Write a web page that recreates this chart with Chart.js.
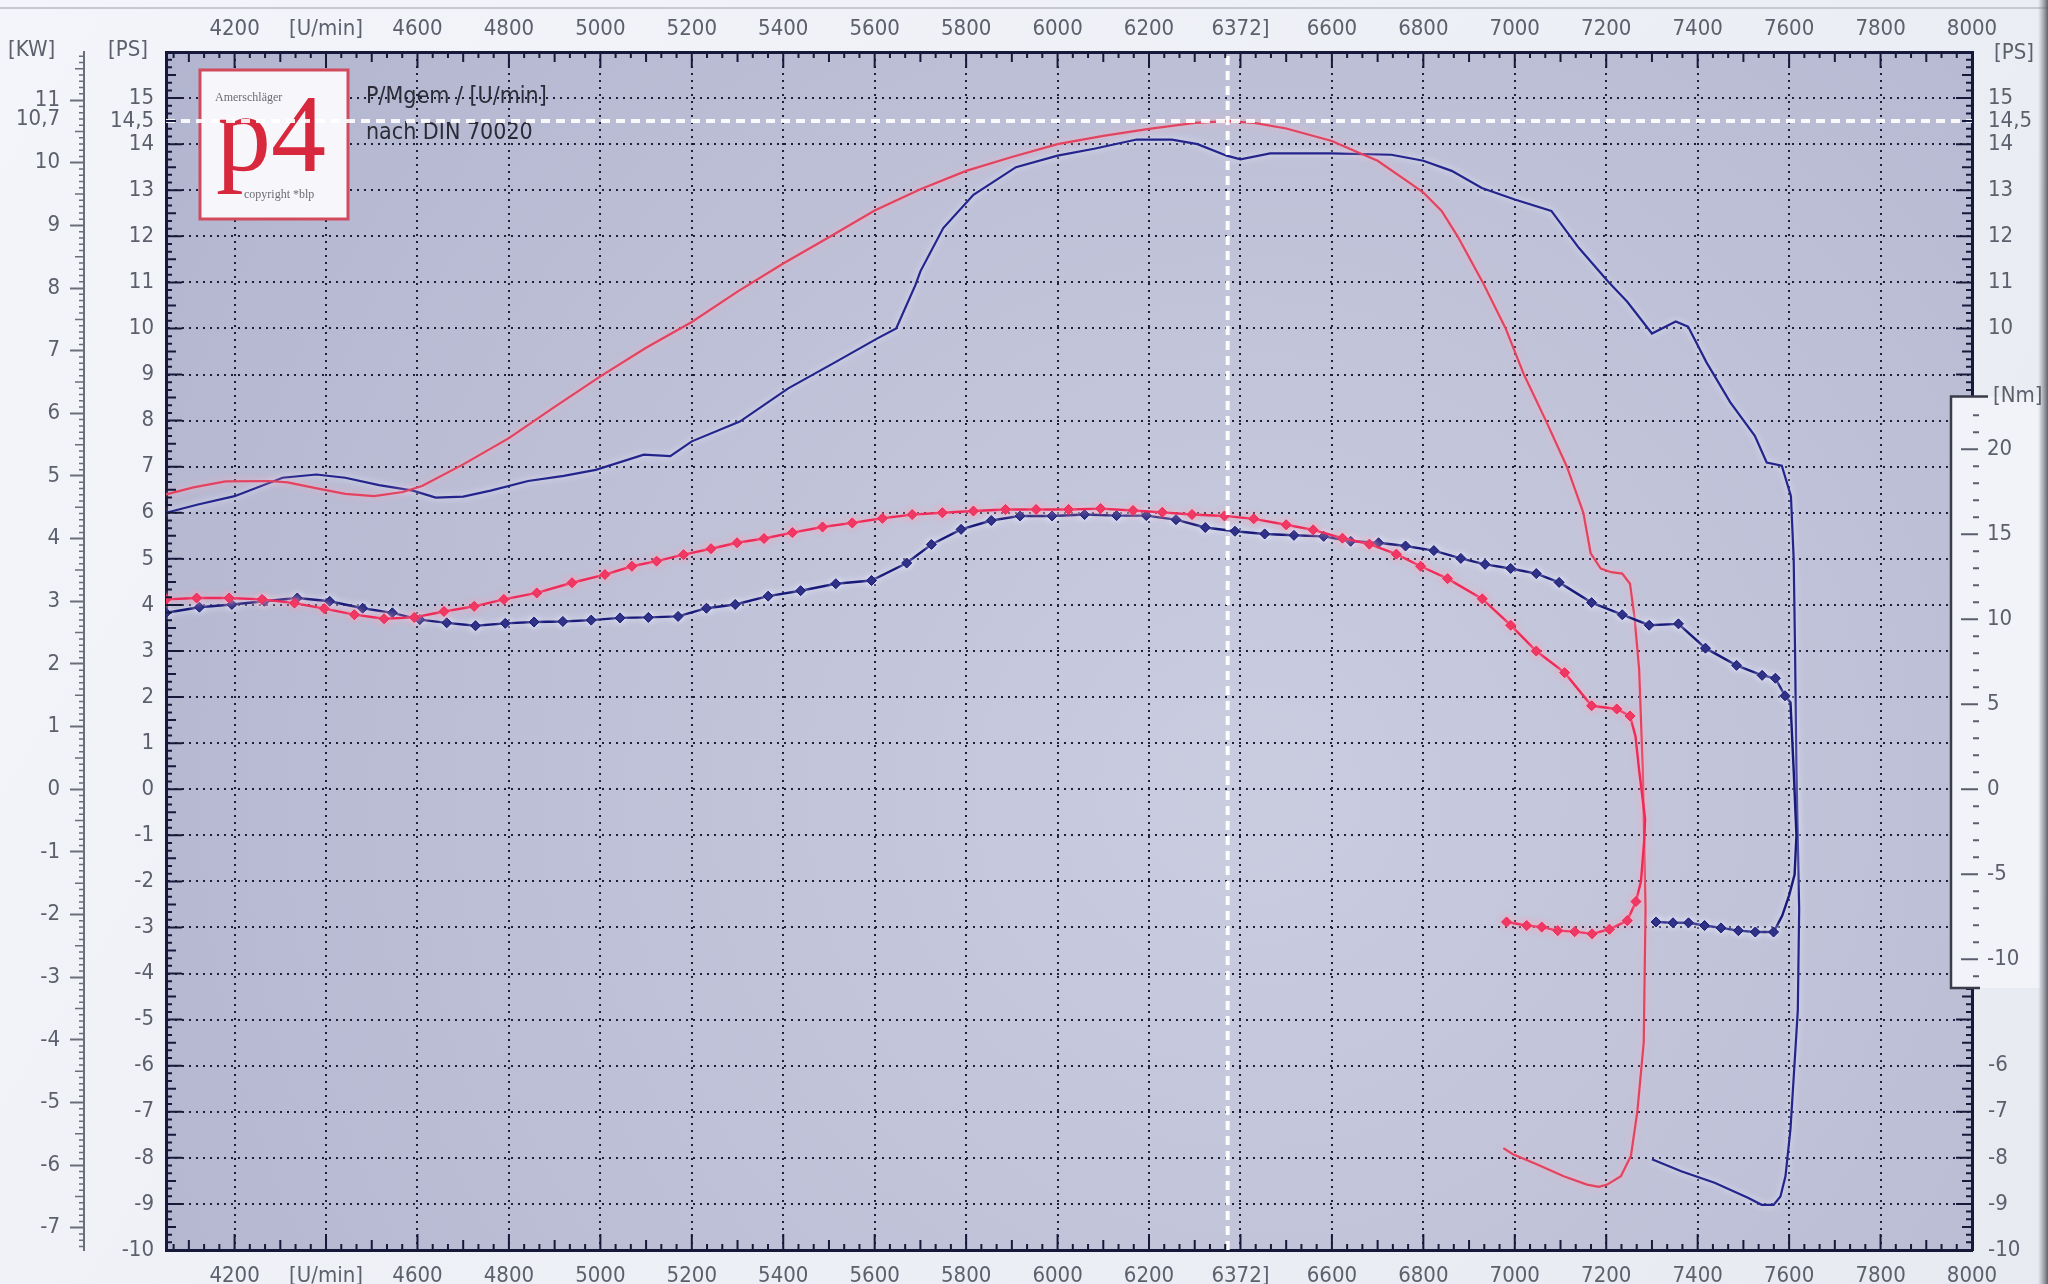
<!DOCTYPE html>
<html>
<head>
<meta charset="utf-8">
<title>P/Mgem / [U/min]</title>
<script src="https://cdn.jsdelivr.net/npm/chart.js@4.4.1/dist/chart.umd.min.js"></script>
<style>
  html, body { margin: 0; padding: 0; background: #eceef4; }
  #wrap { width: 2048px; height: 1284px; }
</style>
</head>
<body>
<div id="wrap"><canvas id="chart" width="2048" height="1284"></canvas></div>
<script>
// Achsen
var rpmTicks = [4200, 4400, 4600, 4800, 5000, 5200, 5400, 5600, 5800, 6000, 6200, 6400, 6600, 6800, 7000, 7200, 7400, 7600, 7800, 8000];
var rpmLabels = ["4200", "[U/min]", "4600", "4800", "5000", "5200", "5400", "5600", "5800", "6000", "6200", "6372]", "6600", "6800", "7000", "7200", "7400", "7600", "7800", "8000"];
var psTicks = [-10, -9, -8, -7, -6, -5, -4, -3, -2, -1, 0, 1, 2, 3, 4, 5, 6, 7, 8, 9, 10, 11, 12, 13, 14, 14.5, 15];
var psRightTicks = [15, 14.5, 14, 13, 12, 11, 10, -6, -7, -8, -9, -10];
var kwTicks = [-7, -6, -5, -4, -3, -2, -1, 0, 1, 2, 3, 4, 5, 6, 7, 8, 9, 10, 10.7, 11];
var nmTicks = [-10, -5, 0, 5, 10, 15, 20];

// Cursor
var cursorRpm = 6372;
var cursorPs = 14.5;

// Leistung [U/min, PS]
var redPower = [
    [4050, 6.40], [4110, 6.55], [4180, 6.68], [4275, 6.69], [4316, 6.66], [4380, 6.53], [4442, 6.41],
    [4505, 6.36], [4568, 6.45], [4610, 6.58], [4700, 7.05], [4800, 7.62], [4900, 8.30], [5000, 8.96],
    [5100, 9.58], [5200, 10.14], [5300, 10.80], [5400, 11.41], [5500, 11.98], [5600, 12.56], [5700, 13.02],
    [5800, 13.42], [5900, 13.72], [6000, 14.00], [6100, 14.18], [6200, 14.33], [6300, 14.46], [6372, 14.50],
    [6430, 14.46], [6500, 14.34], [6600, 14.07], [6650, 13.85], [6700, 13.64], [6770, 13.16], [6800, 12.95],
    [6840, 12.55], [6875, 12.00], [6930, 11.00], [6980, 10.00], [7020, 9.00], [7068, 8.00], [7114, 7.00],
    [7150, 6.00], [7166, 5.12], [7188, 4.79], [7211, 4.71], [7235, 4.68], [7252, 4.46], [7262, 3.72],
    [7272, 2.60], [7280, 0.40], [7286, -2.60], [7282, -5.50], [7268, -7.00], [7254, -7.96], [7232, -8.40],
    [7202, -8.58], [7184, -8.63], [7158, -8.58], [7107, -8.40], [7048, -8.14], [6996, -7.92], [6975, -7.79]
];
var bluePower = [
    [4050, 6.00], [4120, 6.18], [4200, 6.36], [4305, 6.76], [4379, 6.83], [4442, 6.76], [4516, 6.60],
    [4590, 6.48], [4640, 6.33], [4700, 6.35], [4760, 6.48], [4842, 6.69], [4920, 6.80], [4990, 6.93],
    [5095, 7.26], [5153, 7.23], [5200, 7.55], [5305, 7.98], [5411, 8.70], [5516, 9.28], [5605, 9.78],
    [5647, 10.00], [5689, 10.94], [5700, 11.24], [5750, 12.18], [5816, 12.90], [5909, 13.50], [6000, 13.75],
    [6080, 13.90], [6173, 14.10], [6250, 14.10], [6306, 14.00], [6370, 13.75], [6400, 13.67], [6465, 13.80],
    [6597, 13.80], [6730, 13.77], [6800, 13.64], [6862, 13.42], [6928, 13.05], [7000, 12.80], [7080, 12.55],
    [7140, 11.75], [7204, 11.02], [7246, 10.58], [7300, 9.89], [7352, 10.15], [7379, 10.04], [7419, 9.27],
    [7471, 8.40], [7525, 7.67], [7551, 7.09], [7584, 7.02], [7604, 6.36], [7610, 5.00], [7613, 3.00],
    [7616, 0.40], [7622, -2.60], [7619, -4.80], [7610, -6.26], [7603, -7.37], [7592, -8.40], [7581, -8.84],
    [7566, -9.02], [7540, -9.02], [7511, -8.87], [7437, -8.54], [7364, -8.29], [7300, -8.03]
];

// Drehmoment [U/min, Nm]
var redTorque = [
    [4050, 11.17], [4117, 11.25], [4188, 11.25], [4260, 11.17], [4331, 10.95], [4396, 10.63], [4462, 10.27],
    [4527, 10.03], [4593, 10.11], [4658, 10.46], [4724, 10.76], [4789, 11.17], [4861, 11.55], [4938, 12.15],
    [5010, 12.63], [5069, 13.12], [5123, 13.42], [5182, 13.80], [5242, 14.15], [5299, 14.50], [5358, 14.75],
    [5420, 15.10], [5486, 15.43], [5551, 15.67], [5617, 15.94], [5682, 16.16], [5748, 16.27], [5816, 16.37],
    [5886, 16.46], [5953, 16.46], [6024, 16.46], [6094, 16.51], [6165, 16.40], [6229, 16.29], [6294, 16.16],
    [6365, 16.08], [6429, 15.91], [6500, 15.56], [6559, 15.26], [6623, 14.77], [6682, 14.42], [6741, 13.83],
    [6794, 13.12], [6853, 12.39], [6929, 11.20], [6991, 9.65], [7047, 8.13], [7109, 6.86], [7168, 4.91],
    [7223, 4.72], [7252, 4.31], [7264, 3.12], [7272, 1.11], [7285, -1.74], [7283, -3.04], [7276, -5.42],
    [7265, -6.61], [7246, -7.73], [7207, -8.24], [7169, -8.51], [7131, -8.38], [7094, -8.32], [7059, -8.11],
    [7026, -8.02], [6982, -7.81]
];
var blueTorque = [
    [4050, 10.38], [4123, 10.71], [4194, 10.87], [4265, 11.06], [4337, 11.25], [4408, 11.06], [4480, 10.65],
    [4545, 10.38], [4605, 9.98], [4664, 9.79], [4727, 9.62], [4792, 9.76], [4855, 9.84], [4918, 9.87],
    [4980, 9.95], [5043, 10.08], [5105, 10.11], [5170, 10.17], [5232, 10.65], [5295, 10.87], [5367, 11.36],
    [5438, 11.68], [5515, 12.09], [5593, 12.28], [5670, 13.31], [5724, 14.40], [5789, 15.29], [5855, 15.81],
    [5918, 16.08], [5988, 16.08], [6059, 16.16], [6129, 16.10], [6194, 16.10], [6259, 15.86], [6323, 15.40],
    [6388, 15.18], [6453, 15.02], [6517, 14.94], [6582, 14.88], [6641, 14.59], [6702, 14.50], [6761, 14.31],
    [6823, 14.04], [6882, 13.58], [6935, 13.23], [6991, 12.99], [7047, 12.69], [7097, 12.17], [7168, 10.98],
    [7235, 10.27], [7294, 9.65], [7358, 9.73], [7417, 8.30], [7485, 7.29], [7541, 6.70], [7570, 6.53],
    [7591, 5.50], [7603, 5.10], [7610, 1.11], [7616, -2.71], [7612, -5.02], [7600, -6.24], [7585, -7.43],
    [7570, -8.21], [7566, -8.40], [7526, -8.40], [7489, -8.32], [7451, -8.16], [7415, -8.02], [7380, -7.86],
    [7346, -7.86], [7309, -7.81]
];

var RPM_MIN = 4050, RPM_MAX = 8000;
var PS_MIN = -10, PS_MAX = 16;
var KW_PER_PS = 0.7355;
var NM_PER_PS = 2.711;

var FONT = "'Liberation Sans Narrow', 'DejaVu Sans Condensed', 'Arial Narrow', sans-serif";
var TEXT = "#5c5f6c";
var GRID = "#1d1f38";
var FRAME = "#17193a";
var RED_P = "#e4435f", RED_M = "#ee2a58";
var BLUE_P = "#23258c", BLUE_M = "#171a78";

function pts(arr) {
    return arr.map(function(p) { return {x: p[0], y: p[1]}; });
}

function fixTicks(list) {
    return function(scale) {
        scale.ticks = list.map(function(v) { return {value: v}; });
    };
}

function comma(v) {
    return String(v).replace(".", ",");
}

// keine Marker im senkrechten Auslauf
function markerRadius(ctx) {
    var d = ctx.dataset.data, i = ctx.dataIndex;
    var prev = d[i - 1], next = d[i + 1];
    if (prev && next && Math.abs(d[i].x - prev.x) < 16 && Math.abs(next.x - d[i].x) < 16) {
        return 0;
    }
    return 5;
}

var tickFont = {family: FONT, size: 22};

var backdrop = {
    id: "backdrop",
    beforeDraw: function(chart) {
        var ctx = chart.ctx, a = chart.chartArea;
        ctx.save();
        var g = ctx.createLinearGradient(0, 0, chart.width, chart.height);
        g.addColorStop(0, "#f3f5fa");
        g.addColorStop(1, "#e8eaf2");
        ctx.fillStyle = g;
        ctx.fillRect(0, 0, chart.width, chart.height);
        ctx.strokeStyle = "#c6c8d2";
        ctx.lineWidth = 2;
        ctx.beginPath();
        ctx.moveTo(0, 8);
        ctx.lineTo(chart.width, 8);
        ctx.stroke();
        var cx = a.left + a.width * 0.6, cy = a.top + a.height * 0.62;
        var r = ctx.createRadialGradient(cx, cy, 60, cx, cy, a.width * 0.85);
        r.addColorStop(0, "#c9cbdf");
        r.addColorStop(1, "#aeb1cc");
        ctx.fillStyle = r;
        ctx.fillRect(a.left, a.top, a.width, a.height);
        ctx.restore();
    }
};

var logo = {
    id: "logo",
    beforeDatasetsDraw: function(chart) {
        var ctx = chart.ctx;
        ctx.save();
        ctx.fillStyle = "#f7f7fb";
        ctx.fillRect(200, 70, 148, 149);
        ctx.strokeStyle = "#d24a5e";
        ctx.lineWidth = 3;
        ctx.strokeRect(200, 70, 148, 149);
        ctx.fillStyle = "#6b6b74";
        ctx.font = "12px 'Liberation Serif', serif";
        ctx.fillText("Amerschläger", 215, 101);
        ctx.fillText("copyright *blp", 244, 198);
        ctx.fillStyle = "#d8283e";
        ctx.font = "110px 'Liberation Serif', serif";
        ctx.fillText("p4", 216, 171);
        ctx.fillStyle = "#2a2b36";
        ctx.font = "23px " + FONT;
        ctx.fillText("P/Mgem / [U/min]", 366, 103);
        ctx.fillText("nach DIN 70020", 366, 139);
        ctx.restore();
    }
};

var glow = {
    id: "glow",
    beforeDatasetDraw: function(chart, args) {
        var ds = chart.data.datasets[args.index];
        if (!ds.glow) return;
        chart.ctx.save();
        chart.ctx.shadowColor = ds.glow;
        chart.ctx.shadowBlur = 7;
    },
    afterDatasetDraw: function(chart, args) {
        if (chart.data.datasets[args.index].glow) chart.ctx.restore();
    }
};

// Teilstriche an den Rändern
var rulers = {
    id: "rulers",
    afterDatasetsDraw: function(chart) {
        var ctx = chart.ctx, a = chart.chartArea, s = chart.scales;
        var k, v, p, len;
        ctx.save();
        ctx.strokeStyle = FRAME;
        ctx.lineWidth = 2;
        ctx.beginPath();
        for (k = -6; k <= 114; k++) {
            v = 4200 + k * 200 / 6;
            if (v < RPM_MIN || v > RPM_MAX + 0.1) continue;
            len = k % 6 === 0 ? 16 : (k % 3 === 0 ? 10 : 6);
            p = s.x.getPixelForValue(v);
            ctx.moveTo(p, a.bottom);
            ctx.lineTo(p, a.bottom - len);
            ctx.moveTo(p, a.top);
            ctx.lineTo(p, a.top + len);
        }
        for (k = 0; k <= 156; k++) {
            v = PS_MIN + k / 6;
            len = k % 6 === 0 ? 16 : (k % 3 === 0 ? 10 : 6);
            p = s.ps.getPixelForValue(v);
            ctx.moveTo(a.left, p);
            ctx.lineTo(a.left + len, p);
            ctx.moveTo(a.right, p);
            ctx.lineTo(a.right - len, p);
        }
        ctx.stroke();
        // kW-Lineal
        ctx.strokeStyle = "#6a6d7a";
        ctx.lineWidth = 1.5;
        ctx.beginPath();
        for (k = -73; k <= 117; k++) {
            if (k % 10 === 0) continue;
            len = k % 5 === 0 ? 9 : 5;
            p = s.kw.getPixelForValue(k / 10);
            ctx.moveTo(s.kw.right, p);
            ctx.lineTo(s.kw.right - len, p);
        }
        ctx.stroke();
        ctx.restore();
    }
};

var nmBox = {
    id: "nmBox",
    afterDraw: function(chart) {
        var ctx = chart.ctx, nm = chart.scales.nm;
        var top = nm.getPixelForValue(23.1), bottom = nm.getPixelForValue(-11.7);
        var left = 1951, right = 2040;
        ctx.save();
        ctx.fillStyle = "#f2f3f8";
        ctx.fillRect(left, top, right - left, bottom - top);
        ctx.strokeStyle = "#3a3c4a";
        ctx.lineWidth = 2.5;
        ctx.beginPath();
        ctx.moveTo(1988, top);
        ctx.lineTo(left, top);
        ctx.lineTo(left, bottom);
        ctx.lineTo(1980, bottom);
        ctx.stroke();
        ctx.strokeStyle = "#5a5d6c";
        ctx.lineWidth = 2;
        ctx.beginPath();
        for (var v = -11; v <= 22; v++) {
            var y = nm.getPixelForValue(v);
            if (v % 5 === 0) {
                ctx.moveTo(1961, y);
                ctx.lineTo(1978, y);
            } else {
                ctx.moveTo(1973, y);
                ctx.lineTo(1979, y);
            }
        }
        ctx.stroke();
        ctx.fillStyle = TEXT;
        ctx.font = "22px " + FONT;
        ctx.textBaseline = "middle";
        ctx.textAlign = "left";
        nmTicks.forEach(function(n) {
            ctx.fillText(String(n), 1987, nm.getPixelForValue(n));
        });
        ctx.fillText("[Nm]", 1993, top);
        // Einheiten
        ctx.fillText("[KW]", 8, 50);
        ctx.fillText("[PS]", 108, 50);
        ctx.fillText("[PS]", 1994, 53);
        // Bildrand
        var g = ctx.createLinearGradient(2038, 0, 2048, 0);
        g.addColorStop(0, "rgba(120,122,132,0)");
        g.addColorStop(1, "rgba(80,82,92,0.9)");
        ctx.fillStyle = g;
        ctx.fillRect(2038, 0, 10, chart.height);
        ctx.restore();
    }
};

var chart = new Chart(document.getElementById("chart"), {
    type: "line",
    data: {
        datasets: [
            {label: "Cursor U/min", data: [{x: cursorRpm, y: PS_MIN}, {x: cursorRpm, y: PS_MAX}], yAxisID: "ps",
                borderColor: "rgba(255,255,255,0.95)", borderWidth: 4, borderDash: [9, 6], pointRadius: 0, order: 0},
            {label: "Cursor PS", data: [{x: RPM_MIN, y: cursorPs}, {x: RPM_MAX, y: cursorPs}], yAxisID: "ps",
                borderColor: "rgba(255,255,255,0.9)", borderWidth: 4, borderDash: [9, 6], pointRadius: 0, order: 0},
            {label: "P rot", data: pts(redPower), yAxisID: "ps", borderColor: RED_P, borderWidth: 2.2,
                pointRadius: 0, glow: "rgba(255,175,195,0.95)", order: 2},
            {label: "P blau", data: pts(bluePower), yAxisID: "ps", borderColor: BLUE_P, borderWidth: 2.2,
                pointRadius: 0, glow: "rgba(236,236,255,0.95)", order: 3},
            {label: "M rot", data: pts(redTorque), yAxisID: "nm", borderColor: RED_M, borderWidth: 2.4,
                pointStyle: "rectRot", pointRadius: markerRadius, pointBackgroundColor: RED_M,
                pointBorderColor: RED_M, pointBorderWidth: 1, glow: "rgba(255,170,190,0.95)", order: 1},
            {label: "M blau", data: pts(blueTorque), yAxisID: "nm", borderColor: BLUE_M, borderWidth: 2.4,
                pointStyle: "rectRot", pointRadius: markerRadius, pointBackgroundColor: BLUE_M,
                pointBorderColor: BLUE_M, pointBorderWidth: 1, glow: "rgba(236,236,255,0.95)", order: 1}
        ]
    },
    options: {
        responsive: false,
        animation: false,
        devicePixelRatio: 1,
        layout: {padding: 0},
        plugins: {legend: {display: false}, tooltip: {enabled: false}},
        elements: {line: {tension: 0}},
        scales: {
            x: {
                type: "linear", position: "bottom", min: RPM_MIN, max: RPM_MAX,
                afterBuildTicks: fixTicks(rpmTicks),
                afterFit: function(s) { s.height = 34; },
                ticks: {autoSkip: false, maxRotation: 0, padding: 13, color: TEXT, font: tickFont,
                    callback: function(v) { return rpmLabels[rpmTicks.indexOf(v)]; }},
                grid: {color: GRID, lineWidth: 2, drawTicks: false},
                border: {color: FRAME, width: 3, dash: [2, 5]}
            },
            xTop: {
                type: "linear", position: "top", min: RPM_MIN, max: RPM_MAX,
                afterBuildTicks: fixTicks(rpmTicks),
                afterFit: function(s) { s.height = 52; },
                ticks: {autoSkip: false, maxRotation: 0, padding: 10, color: TEXT, font: tickFont,
                    callback: function(v) { return rpmLabels[rpmTicks.indexOf(v)]; }},
                grid: {display: false, drawTicks: false},
                border: {color: FRAME, width: 3}
            },
            ps: {
                type: "linear", position: "left", weight: 0, min: PS_MIN, max: PS_MAX,
                afterBuildTicks: fixTicks(psTicks),
                afterFit: function(s) { s.width = 82; },
                ticks: {autoSkip: false, padding: 12, color: TEXT, font: tickFont, callback: comma},
                grid: {
                    color: function(c) { return c.tick && c.tick.value === cursorPs ? "rgba(0,0,0,0)" : GRID; },
                    lineWidth: 2, drawTicks: false
                },
                border: {color: FRAME, width: 3, dash: [2, 5]}
            },
            kw: {
                type: "linear", position: "left", weight: 1, min: PS_MIN * KW_PER_PS, max: PS_MAX * KW_PER_PS,
                afterBuildTicks: fixTicks(kwTicks),
                afterFit: function(s) { s.width = 84; },
                ticks: {autoSkip: false, padding: 10, color: TEXT, font: tickFont, callback: comma},
                grid: {
                    drawOnChartArea: false, drawTicks: true, tickLength: 14, tickWidth: 2,
                    tickColor: function(c) { return c.tick && c.tick.value === 10.7 ? "rgba(0,0,0,0)" : "#6a6d7a"; }
                },
                border: {color: "#6a6d7a", width: 2}
            },
            ps2: {
                type: "linear", position: "right", min: PS_MIN, max: PS_MAX,
                afterBuildTicks: fixTicks(psRightTicks),
                afterFit: function(s) { s.width = 76; },
                ticks: {autoSkip: false, padding: 16, color: TEXT, font: tickFont, callback: comma},
                grid: {display: false, drawTicks: false},
                border: {color: FRAME, width: 3}
            },
            nm: {
                type: "linear", position: "right", display: false,
                min: PS_MIN * NM_PER_PS, max: PS_MAX * NM_PER_PS
            }
        }
    },
    plugins: [backdrop, logo, glow, rulers, nmBox]
});
</script>
</body>
</html>
